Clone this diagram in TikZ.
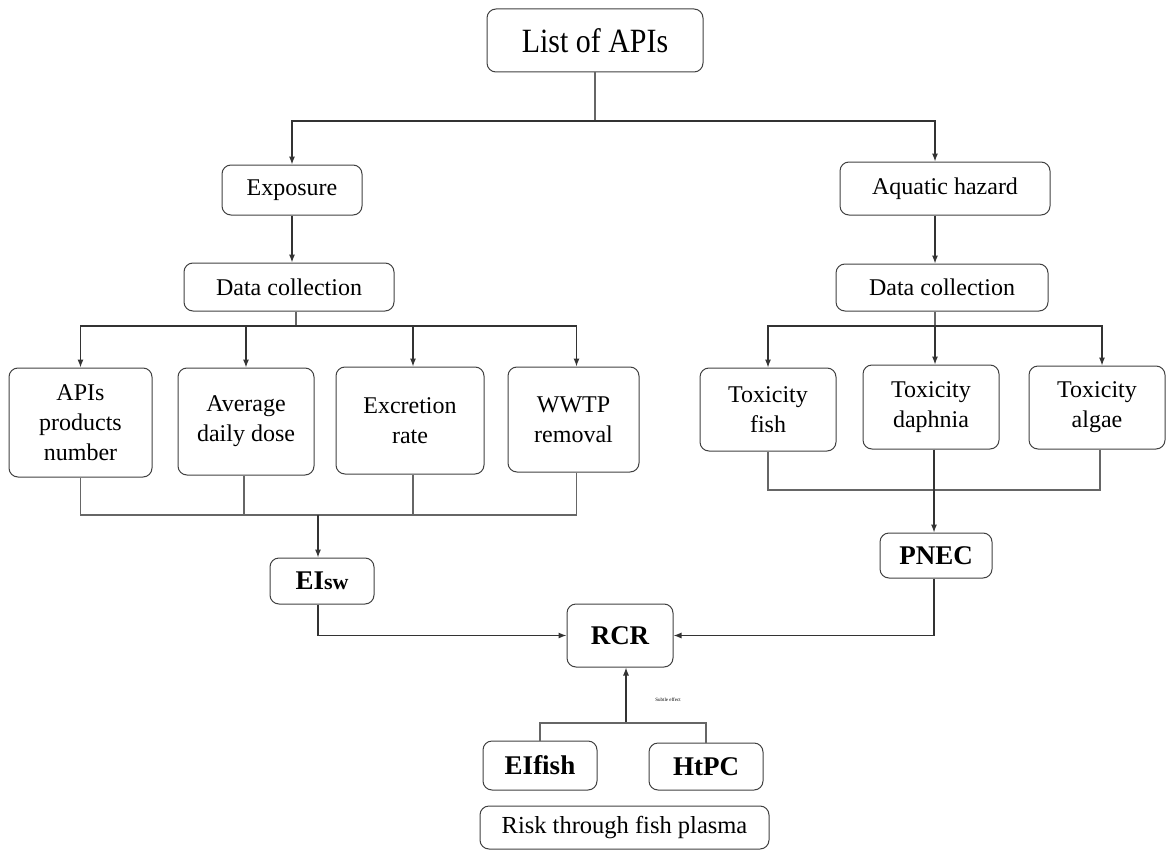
\documentclass[tikz,border=0pt]{standalone}
\usepackage{fontspec}
\setmainfont{Liberation Serif}
\usetikzlibrary{arrows.meta}
\begin{document}
\begin{tikzpicture}[x=1pt,y=-1pt,
  box/.style={draw=black!75,line width=1pt,rounded corners=9pt,align=center,inner sep=0pt,font=\fontsize{24}{30}\selectfont},
  bbox/.style={box,font=\fontsize{27}{30}\selectfont\bfseries},
  ln/.style={draw=black!60,line width=1.1pt},
  ar/.style={draw=black!80,line width=1.1pt,-{Latex[length=8pt,width=6pt]}}]
\useasboundingbox (0,0) rectangle (1170,851);
% top
\node[box,minimum width=216pt,minimum height=63pt,font=\fontsize{34}{38}\selectfont] (list) at (595,40.5) {\scalebox{0.88}[1]{List of APIs}};
\node[box,minimum width=140pt,minimum height=50pt] (exp) at (292,190) {Exposure};
\node[box,minimum width=210pt,minimum height=53pt] (aq) at (945,188.5) {Aquatic hazard};
\node[box,minimum width=210pt,minimum height=48pt] (dcl) at (289,287) {Data collection};
\node[box,minimum width=212pt,minimum height=47pt] (dcr) at (942,287.5) {Data collection};
% exposure leaves
\node[box,minimum width=143pt,minimum height=109pt] (api) at (80.5,422.5) {APIs\\products\\number};
\node[box,minimum width=136pt,minimum height=107pt] (add) at (246,421.5) {Average\\daily dose};
\node[box,minimum width=148pt,minimum height=107pt] (exc) at (410,420.5) {Excretion\\rate};
\node[box,minimum width=131pt,minimum height=105pt] (wwtp) at (573.5,419.5) {WWTP\\removal};
% hazard leaves
\node[box,minimum width=136pt,minimum height=83pt] (tf) at (768,409.5) {Toxicity\\fish};
\node[box,minimum width=136pt,minimum height=84pt] (td) at (931,407) {Toxicity\\daphnia};
\node[box,minimum width=136pt,minimum height=83pt] (ta) at (1097,407.5) {Toxicity\\algae};
% results
\node[bbox,minimum width=104pt,minimum height=46pt] (eisw) at (322,581) {EI\fontsize{22}{26}\selectfont sw};
\node[bbox,minimum width=112pt,minimum height=45pt] (pnec) at (936,555.5) {PNEC};
\node[bbox,minimum width=106pt,minimum height=63pt] (rcr) at (620,635.5) {RCR};
\node[bbox,minimum width=114pt,minimum height=49pt] (eif) at (540,765.5) {EIfish};
\node[bbox,minimum width=114pt,minimum height=47pt] (htpc) at (706,766.5) {HtPC};
\node[box,minimum width=289pt,minimum height=43pt,font=\fontsize{24.5}{28}\selectfont] (risk) at (624.5,827.5) {Risk through fish plasma};
\node[font=\fontsize{5}{6}\selectfont,inner sep=0pt] (subtle) at (668,700) {Subtle effect};
% junction coordinates
\coordinate (j1) at (595,121);
\coordinate (j2) at (296,326);
\coordinate (j3) at (318,515);
\coordinate (j4) at (935,326);
\coordinate (j5) at (934,490);
\coordinate (j6) at (626,723);
% top split
\draw[ln] (list.south) -- (j1);
\draw[ar] (j1) -| (exp.north);
\draw[ar] (j1) -| ([xshift=-10pt]aq.north);
\draw[ar] (exp) -- (exp|-dcl.north);
\draw[ar] ([xshift=-10pt]aq.south) -- ([xshift=-10pt]aq.south|-dcr.north);
% exposure split
\draw[ln] (dcl.south-|j2) -- (j2);
\draw[ar] (j2) -| (api.north);
\draw[ar] (j2) -| (add.north);
\draw[ar] (j2) -| ([xshift=3pt]exc.north);
\draw[ar] (j2) -| ([xshift=3pt]wwtp.north);
% exposure merge
\draw[ln] (api.south) |- (j3);
\draw[ln] ([xshift=-2pt]add.south) -- ([xshift=-2pt]add.south|-j3);
\draw[ln] ([xshift=3pt]exc.south) -- ([xshift=3pt]exc.south|-j3);
\draw[ln] ([xshift=3pt]wwtp.south) |- (j3);
\draw[ar] (j3) -- (j3|-eisw.north);
\draw[ar] (j3|-eisw.south) |- (rcr.west);
% hazard split
\draw[ln] (dcr.south-|j4) -- (j4);
\draw[ar] (j4) -| (tf.north);
\draw[ar] (j4) -- (j4|-td.north);
\draw[ar] (j4) -| ([xshift=5pt]ta.north);
% hazard merge
\draw[ln] (tf.south) |- (j5);
\draw[ln] ([xshift=3pt]ta.south) |- (j5);
\draw[ar] (j5|-td.south) -- (j5|-pnec.north);
\draw[ar] (j5|-pnec.south) |- (rcr.east);
% fish plasma
\draw[ar] (j6) -- (j6|-rcr.south);
\draw[ln] (eif.north) |- (j6);
\draw[ln] (htpc.north) |- (j6);
\end{tikzpicture}
\end{document}
